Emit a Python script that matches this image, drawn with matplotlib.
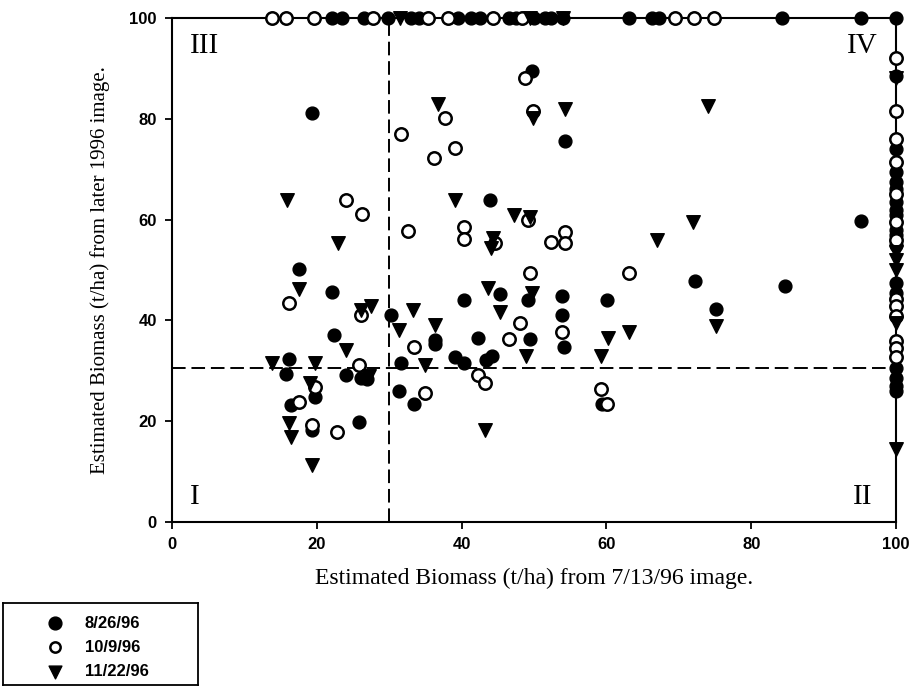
import matplotlib
matplotlib.use('Agg')
import matplotlib.pyplot as plt

# 8/26/96 (filled circles)
aug_x = [19.3, 43.9, 17.5, 22.1, 30.2, 22.4, 16.1, 15.8, 24.1, 26.1, 27.0, 31.6, 31.4, 33.4,
         19.7, 16.4, 19.3, 25.8, 49.7, 54.3, 45.3, 40.3, 49.2, 53.8, 53.8, 60.1, 36.3, 36.3,
         49.5, 42.3, 54.2, 39.1, 40.4, 43.4, 44.2, 59.4, 72.2, 75.1, 84.6, 95.2,
         22.1, 23.5, 26.5, 29.8, 33.0, 34.1, 39.5, 41.3, 42.5, 46.5, 47.5, 50.0, 51.5, 52.4,
         54.0, 63.1, 66.3, 67.2, 84.3, 95.2, 100,
         100, 100, 100, 100, 100, 100, 100, 100, 100, 100, 100, 100, 100, 100, 100, 100, 100]
aug_y = [81.2, 63.9, 50.2, 45.7, 41.1, 37.1, 32.3, 29.4, 29.2, 28.6, 28.3, 31.5, 26.0, 23.4,
         24.8, 23.2, 18.3, 19.9, 89.5, 75.5, 45.2, 44.0, 44.0, 44.9, 41.1, 44.0, 36.1, 35.3,
         36.4, 36.6, 34.7, 32.7, 31.5, 32.1, 32.9, 23.5, 47.9, 42.2, 46.8, 59.8,
         100, 100, 100, 100, 100, 100, 100, 100, 100, 100, 100, 100, 100, 100,
         100, 100, 100, 100, 100, 100, 100,
         88.5, 74.0, 69.5, 67.5, 66.0, 63.5, 62.0, 61.0, 58.0, 57.0, 55.0, 47.5, 45.5, 30.5,
         28.5, 27.0, 26.0]

# 10/9/96 (open circles)
oct_x = [24.1, 26.2, 31.6, 37.7, 39.1, 36.2, 32.6, 40.4, 40.4, 44.6, 49.2, 52.4, 54.3, 54.3,
         48.8, 49.9, 49.5, 63.1, 16.1, 26.1, 33.4, 25.8, 19.7, 17.5, 19.3, 22.8, 48.0, 46.6,
         53.8, 42.3, 43.2, 34.9, 59.3, 60.1,
         13.8, 15.7, 19.6, 27.7, 35.3, 38.1, 44.3, 48.3, 69.5, 72.1, 74.9,
         100, 100, 100, 100, 100, 100, 100, 100, 100, 100, 100, 100, 100]
oct_y = [63.9, 61.1, 77.0, 80.1, 74.3, 72.3, 57.8, 58.6, 56.1, 55.3, 59.9, 55.6, 57.6, 55.4,
         88.0, 81.6, 49.5, 49.5, 43.5, 41.1, 34.8, 31.2, 26.8, 23.9, 19.2, 17.9, 39.4, 36.4,
         37.6, 29.2, 27.6, 25.5, 26.3, 23.4,
         100, 100, 100, 100, 100, 100, 100, 100, 100, 100, 100,
         92.0, 81.5, 76.0, 71.5, 65.0, 59.5, 56.0, 44.2, 42.8, 40.8, 36.0, 34.5, 32.8]

# 11/22/96 (filled triangles)
nov_x = [15.9, 22.9, 36.7, 39.1, 44.3, 44.0, 47.3, 49.4, 49.9, 54.3, 17.5, 27.5, 26.1, 31.4,
         24.1, 13.8, 19.8, 27.2, 19.0, 16.1, 16.5, 19.4, 33.3, 43.7, 49.7, 45.3, 36.3, 34.9,
         48.9, 59.3, 60.2, 63.1, 43.2, 75.1, 74.0, 67.0, 72.0,
         31.5, 49.5, 54.0,
         100, 100, 100, 100, 100, 100]
nov_y = [63.9, 55.4, 82.9, 63.8, 56.3, 54.3, 60.9, 60.6, 80.1, 82.0, 46.2, 42.9, 42.1, 38.0,
         34.1, 31.5, 31.6, 29.0, 27.5, 19.6, 16.9, 11.3, 42.1, 46.4, 45.5, 41.7, 39.1, 31.2,
         32.9, 32.9, 36.6, 37.6, 18.3, 38.8, 82.5, 56.0, 59.5,
         100, 100, 100,
         88.0, 53.5, 52.0, 50.0, 39.5, 14.5]

x_cut = 30.0
y_cut = 30.5
xticks = [0, 20, 40, 60, 80, 100]
yticks = [0, 20, 40, 60, 80, 100]

fig = plt.figure(figsize=(9.13, 6.88), dpi=100)
ax = fig.add_axes([172 / 913, 1 - 522 / 688, 724 / 913, 504 / 688])

ax.scatter(aug_x, aug_y, s=85, marker='o', facecolor='black', edgecolor='black',
           linewidth=1, clip_on=False, zorder=3)
ax.scatter(oct_x, oct_y, s=80, marker='o', facecolor='white', edgecolor='black',
           linewidth=1.8, clip_on=False, zorder=4)
ax.scatter(nov_x, nov_y, s=95, marker='v', facecolor='black', edgecolor='black',
           linewidth=1, clip_on=False, zorder=5)

# quadrant lines
ax.plot([0, 100], [y_cut, y_cut], color='black', lw=1.4, dashes=(7, 3), zorder=2)
ax.plot([x_cut, x_cut], [0, 100], color='black', lw=1.4, dashes=(7, 3), zorder=2)

ax.text(2.5, 94.5, 'III', fontsize=21, family='Liberation Serif', va='center')
ax.text(93.2, 94.5, 'IV', fontsize=21, family='Liberation Serif', va='center')
ax.text(2.5, 5, 'I', fontsize=21, family='Liberation Serif', va='center')
ax.text(94.0, 5, 'II', fontsize=21, family='Liberation Serif', va='center')

ax.set_xlim(0, 100)
ax.set_ylim(0, 100)
ax.set_xticks(xticks)
ax.set_yticks(yticks)
for lab in ax.get_xticklabels() + ax.get_yticklabels():
    lab.set_family('Liberation Sans')
    lab.set_fontweight('bold')
    lab.set_fontsize(12)
ax.tick_params(direction='out', length=5, width=1.3, pad=6)
for sp in ax.spines.values():
    sp.set_linewidth(1.5)

ax.set_xlabel('Estimated Biomass (t/ha) from 7/13/96 image.', family='Liberation Serif',
              fontsize=17, labelpad=11)
ax.set_ylabel('Estimated Biomass (t/ha) from later 1996 image.', family='Liberation Serif',
              fontsize=15, labelpad=14)

# legend box
lax = fig.add_axes([3 / 913, 3 / 688, 195 / 913, 82 / 688])
lax.set_xticks([])
lax.set_yticks([])
for sp in lax.spines.values():
    sp.set_linewidth(1.3)
h1 = lax.scatter([], [], s=85, marker='o', facecolor='black', edgecolor='black')
h2 = lax.scatter([], [], s=55, marker='o', facecolor='white', edgecolor='black', linewidth=1.8)
h3 = lax.scatter([], [], s=85, marker='v', facecolor='black', edgecolor='black')
lax.legend([h1, h2, h3], ['8/26/96', '10/9/96', '11/22/96'], loc='center left',
           bbox_to_anchor=(0, 0.46), frameon=False,
           prop={'family': 'Liberation Sans', 'size': 12, 'weight': 'bold'},
           handletextpad=0.8, labelspacing=0.55, borderaxespad=1.7)

fig.savefig('out.png', dpi=100)
